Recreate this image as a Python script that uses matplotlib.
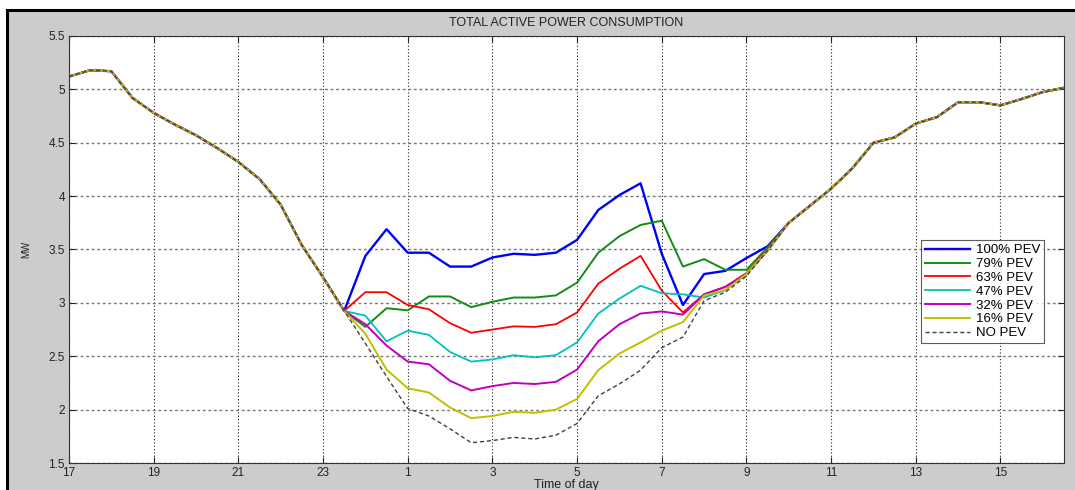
import numpy as np
import matplotlib.backends.backend_agg
import matplotlib.figure
import matplotlib.patches

# half-hour steps from 17:00 to 16:30 next day (hours past midnight of day 1)
hours = np.arange(17.0, 41.0, 0.5)

# load common to every scenario, 17:00 - 23:00
load_head = [5.12, 5.18, 5.17, 4.92, 4.78, 4.67, 4.57, 4.45, 4.32, 4.16,
             3.92, 3.54, 3.24]
# load common to every scenario, 10:00 - 16:30
load_tail = [3.75, 3.91, 4.07, 4.26, 4.50, 4.55, 4.68, 4.74, 4.88, 4.88,
             4.85, 4.91, 4.975, 5.015]

# charging window 23:30 - 09:30, one list per PEV penetration
pev_100 = [2.925, 3.44, 3.69, 3.47, 3.47, 3.34, 3.34, 3.425, 3.46, 3.45, 3.47,
           3.59, 3.87, 4.01, 4.12, 3.46, 2.98, 3.27, 3.30, 3.42, 3.53]
pev_79 = [2.925, 2.775, 2.95, 2.93, 3.06, 3.06, 2.96, 3.01, 3.05, 3.05, 3.07,
          3.19, 3.47, 3.625, 3.73, 3.77, 3.34, 3.41, 3.31, 3.31, 3.52]
pev_63 = [2.925, 3.10, 3.10, 2.98, 2.94, 2.81, 2.72, 2.75, 2.78, 2.775, 2.80,
          2.91, 3.18, 3.32, 3.44, 3.115, 2.91, 3.08, 3.15, 3.28, 3.50]
pev_47 = [2.925, 2.88, 2.64, 2.74, 2.70, 2.54, 2.45, 2.47, 2.51, 2.49, 2.51,
          2.63, 2.90, 3.04, 3.16, 3.09, 3.08, 3.05, 3.12, 3.27, 3.49]
pev_32 = [2.925, 2.80, 2.60, 2.45, 2.425, 2.27, 2.18, 2.22, 2.25, 2.24, 2.26,
          2.375, 2.64, 2.80, 2.90, 2.92, 2.89, 3.08, 3.15, 3.27, 3.49]
pev_16 = [2.925, 2.71, 2.375, 2.20, 2.16, 2.02, 1.92, 1.94, 1.98, 1.97, 2.00,
          2.10, 2.37, 2.525, 2.63, 2.74, 2.82, 3.07, 3.12, 3.27, 3.49]
pev_0 = [2.925, 2.62, 2.31, 2.01, 1.94, 1.82, 1.69, 1.71, 1.74, 1.725, 1.76,
         1.87, 2.13, 2.24, 2.37, 2.58, 2.68, 3.02, 3.10, 3.25, 3.49]

labels = ['100% PEV', '79% PEV', '63% PEV', '47% PEV', '32% PEV', '16% PEV',
          'NO PEV']
series = [pev_100, pev_79, pev_63, pev_47, pev_32, pev_16, pev_0]
colors = ['#0000ff', '#148c14', '#ff0000', '#00c0c0', '#c000c0', '#c0c000',
          '#404040']
widths = [1.7, 1.4, 1.3, 1.3, 1.4, 1.4, 1.0]
styles = ['-', '-', '-', '-', '-', '-', (0, (3, 2))]

xticks = np.arange(17, 41, 2)
xticklabels = [str(int(h) % 24) for h in xticks]

font = 'Liberation Sans'
txt = '#222222'

# figure, canvas, axes objects
fig = matplotlib.figure.Figure(figsize=(10.75, 4.9), dpi=100, facecolor='white')
canvas = matplotlib.backends.backend_agg.FigureCanvasAgg(fig)

# matlab style grey window with black frame
frame = matplotlib.patches.Rectangle((7 / 1075, -0.01), 1.1, 480 / 490 + 0.01,
                                     transform=fig.transFigure,
                                     facecolor='#cccccc', edgecolor='black',
                                     linewidth=2.2, zorder=-10)
fig.patches.append(frame)

ax = fig.add_axes([69 / 1075, 27 / 490, 995 / 1075, 427 / 490])
ax.set_facecolor('white')

for vals, lab, c, lw, ls in zip(series, labels, colors, widths, styles):
    y = np.concatenate([load_head, vals, load_tail])
    ax.plot(hours, y, color=c, lw=lw, linestyle=ls, label=lab)

ax.set_xlim(17, 40.5)
ax.set_ylim(1.5, 5.5)
ax.set_xticks(xticks)
ax.set_xticklabels(xticklabels)
ax.set_yticks(np.arange(1.5, 5.51, 0.5))
ax.set_yticklabels(['1.5', '2', '2.5', '3', '3.5', '4', '4.5', '5', '5.5'])
ax.tick_params(direction='in', top=True, right=True, length=4, width=0.8,
               labelsize=8.5, pad=3, colors=txt)

ax.xaxis.grid(True, color='#222222', linestyle=(0, (1, 2)), linewidth=0.8)
ax.yaxis.grid(True, color='#777777', linestyle=(0, (2, 2)), linewidth=1.0)
for sp in ax.spines.values():
    sp.set_linewidth(0.8)
    sp.set_color('#333333')

ax.set_title('TOTAL ACTIVE POWER CONSUMPTION', fontsize=9, family=font,
             color=txt, pad=7)
ax.set_xlabel('Time of day', fontsize=9, family=font, labelpad=0, color=txt)
ax.set_ylabel('MW', fontsize=7, family=font, labelpad=12, color=txt)
for t in ax.get_xticklabels() + ax.get_yticklabels():
    t.set_family(font)

leg = ax.legend(loc='upper left', bbox_to_anchor=(0.856, 0.522),
                prop={'family': font, 'size': 9.5},
                frameon=True, fancybox=False, edgecolor='#333333',
                handlelength=3.4, handletextpad=0.5, labelspacing=0.12,
                borderpad=0.3, borderaxespad=0)
leg.get_frame().set_linewidth(0.8)

fig.savefig('out.png', dpi=100)
